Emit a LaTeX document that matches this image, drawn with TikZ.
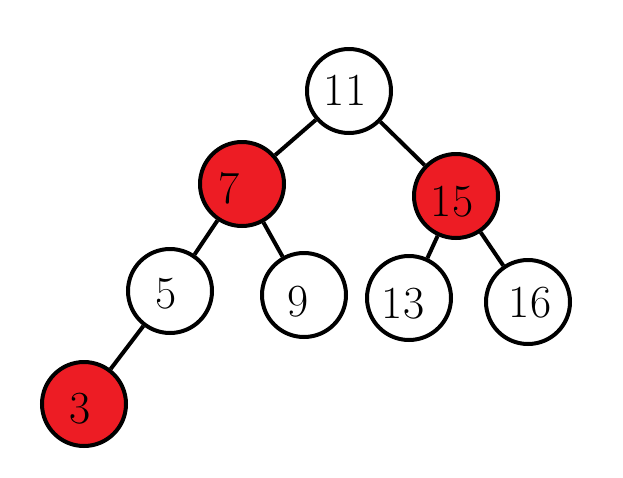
\documentclass[tikz,border=0pt]{standalone}
\usepackage{tikz}
\definecolor{rbred}{RGB}{237,28,36}
\begin{document}
\begin{tikzpicture}[x=1pt,y=-1pt,
  tnode/.style={circle,draw=black,line width=4pt,minimum size=84pt,inner sep=0pt},
  blk/.style={tnode,fill=white},
  rd/.style={tnode,fill=rbred},
  lbl/.style={inner sep=0pt,font=\fontsize{46}{48}\selectfont},
  edge/.style={line width=4pt}]
\useasboundingbox (0,0) rectangle (623,477);
\node[blk] (n11) at (349,91) {};
\node[rd]  (n7)  at (242,184) {};
\node[rd]  (n15) at (456,196) {};
\node[blk] (n5)  at (170,291) {};
\node[blk] (n9)  at (304,295) {};
\node[blk] (n13) at (409,298) {};
\node[blk] (n16) at (528,302) {};
\node[rd]  (n3)  at (84,404) {};
\draw[edge] (n11) -- (n7);
\draw[edge] (n11) -- (n15);
\draw[edge] (n7) -- (n5);
\draw[edge] (n7) -- (n9);
\draw[edge] (n15) -- (n13);
\draw[edge] (n15) -- (n16);
\draw[edge] (n5) -- (n3);
\node[lbl] (t11) at (345,90) {11};
\node[lbl] (t7)  at (229,188) {7};
\node[lbl] (t15) at (452,202) {15};
\node[lbl] (t5)  at (166,294) {5};
\node[lbl] (t9)  at (298,302) {9};
\node[lbl] (t13) at (403,304) {13};
\node[lbl] (t16) at (530,303) {16};
\node[lbl] (t3)  at (80,409) {3};
\end{tikzpicture}
\end{document}
